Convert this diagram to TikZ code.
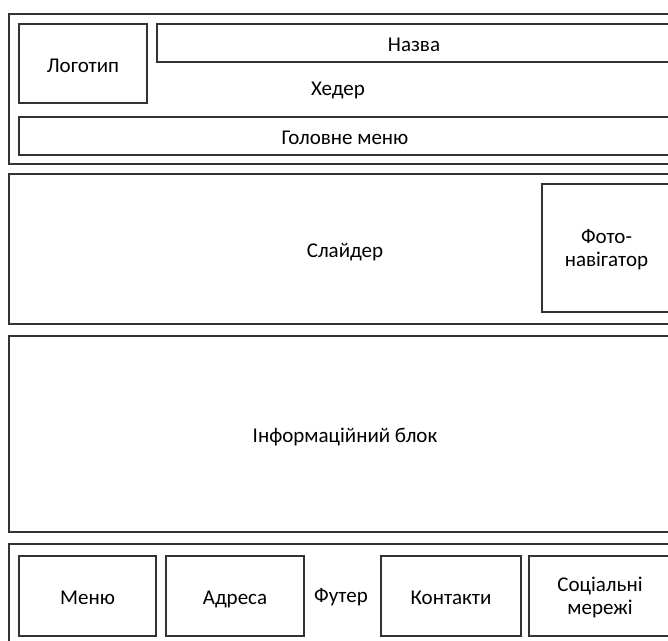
\documentclass[tikz,border=0pt]{standalone}
\usepackage{fontspec}
\setmainfont{Carlito}
\begin{document}
\begin{tikzpicture}[x=1pt,y=-1pt,
  every node/.style={font=\fontsize{21}{23}\selectfont, text=black},
  frame/.style={draw=black!80, line width=1.3pt, fill=white, inner sep=0pt, align=center},
  block/.style={frame, text height=17.5pt, text depth=0pt},
  twoline/.style={frame, text depth=0pt},
  label/.style={inner sep=0pt, text height=17.5pt, text depth=0pt}]
\useasboundingbox (0,0) rectangle (668,640);
\clip (0,0) rectangle (668,640);

% header
\node[frame, minimum width=672pt, minimum height=150pt] (header) at (345,89) {};
\node[label] (headertext) at (338,87) {Хедер};
\node[block, minimum width=128pt, minimum height=79pt] (logo) at (83,63.5) {Логотип};
\node[block, minimum width=514pt, minimum height=38pt] (title) at (414,43) {Назва};
\node[block, minimum width=652pt, minimum height=38pt] (mainmenu) at (345,136) {Головне меню};

% slider
\node[block, minimum width=672pt, minimum height=150pt] (slider) at (345,249) {Слайдер};
\node[twoline, minimum width=129pt, minimum height=128pt] (photonav) at (606.5,248) {Фото-\\навігатор};

% information block
\node[block, minimum width=672pt, minimum height=196pt] (info) at (345,434) {Інформаційний блок};

% footer
\node[frame, minimum width=672pt, minimum height=102pt] (footer) at (345,595) {};
\node[label] (footertext) at (341,594) {Футер};
\node[block, minimum width=137pt, minimum height=80pt] (fmenu) at (87.5,596) {Меню};
\node[block, minimum width=138pt, minimum height=80pt] (address) at (235,596) {Адреса};
\node[block, minimum width=140pt, minimum height=80pt] (contacts) at (451,596) {Контакти};
\node[twoline, minimum width=142pt, minimum height=80pt] (social) at (600,596) {Соціальні\\мережі};
\end{tikzpicture}
\end{document}
